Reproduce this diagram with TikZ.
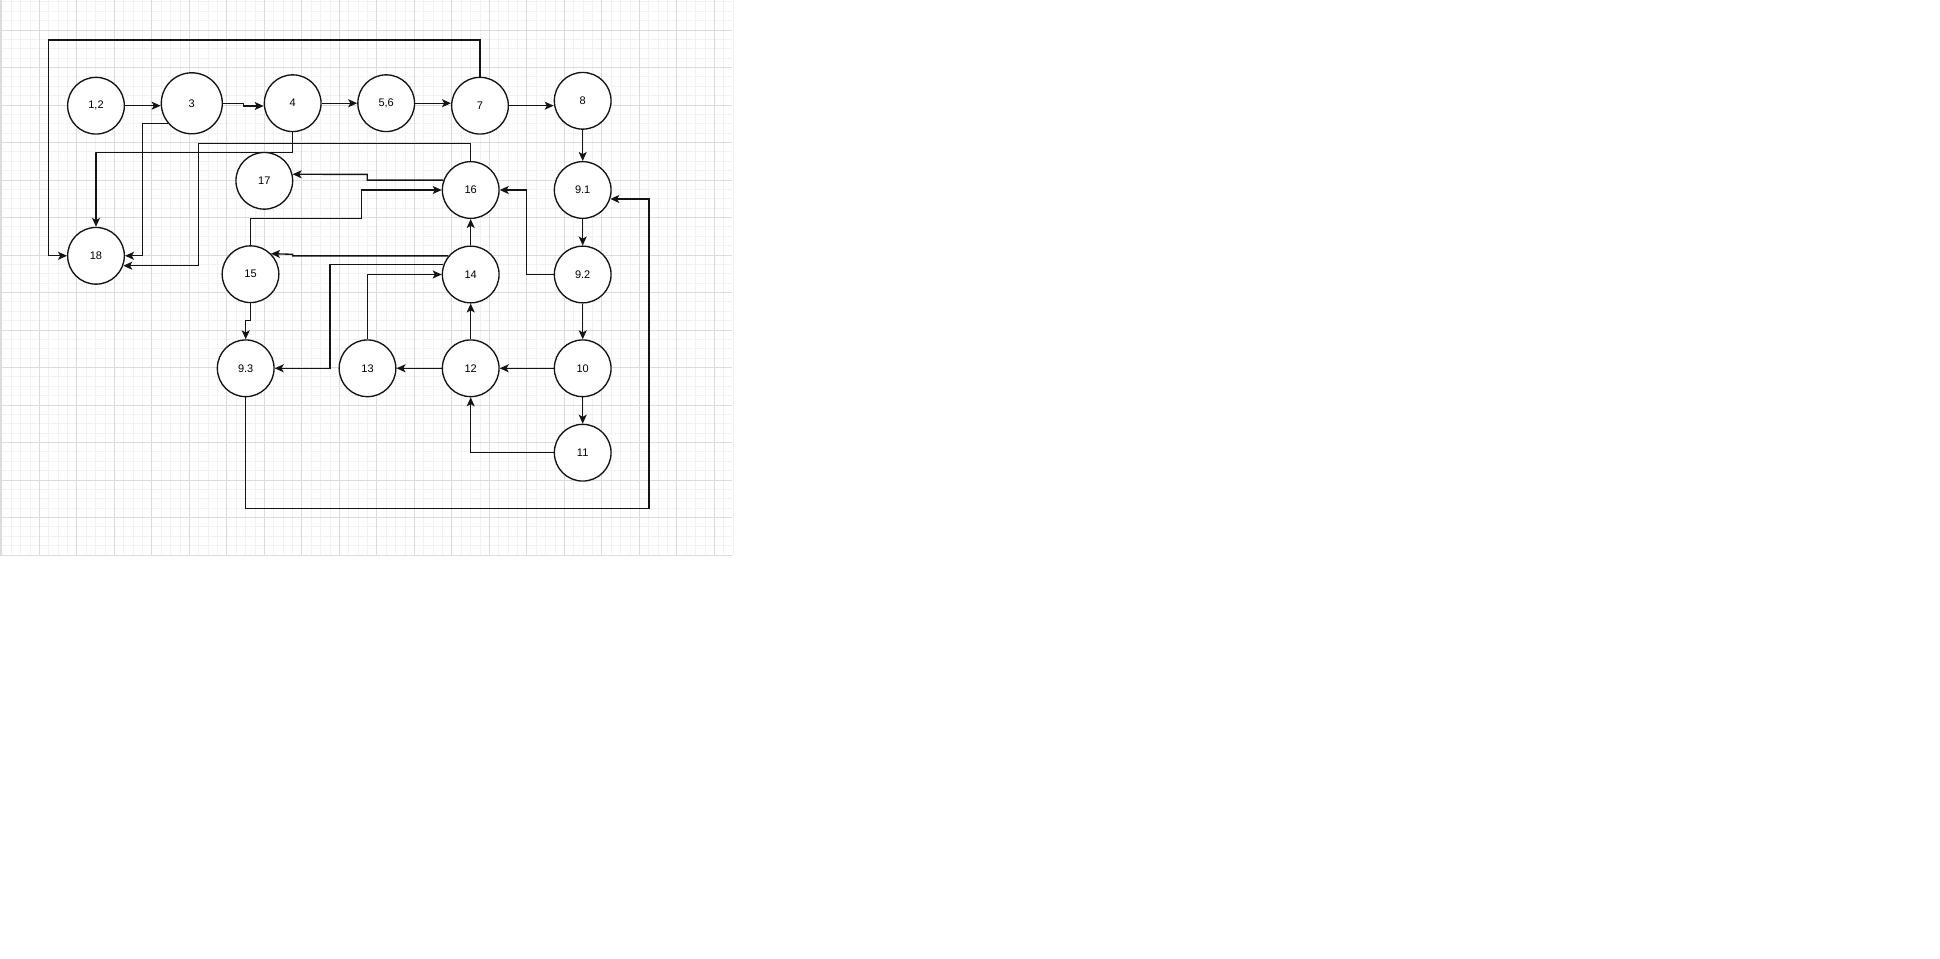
\documentclass[tikz,border=0pt]{standalone}
\usepackage{fontspec}
\setmainfont{Liberation Sans}
\usetikzlibrary{arrows.meta}
\definecolor{gridminor}{HTML}{F2F2F2}
\definecolor{gridmajor}{HTML}{DCDCDC}
\definecolor{ink}{HTML}{141414}
\tikzset{
  stnode/.style={circle, draw=ink, line width=1.35pt, fill=white, minimum size=56.7pt, inner sep=0pt, font=\fontsize{11}{13}\selectfont, text=black},
  bignode/.style={stnode, minimum size=61pt},
  conn/.style={draw=ink, line width=1.35pt, -{Stealth[length=9pt,width=8pt,inset=2.2pt]}},
}
\begin{document}
\begin{tikzpicture}[x=1pt,y=-1pt]
\useasboundingbox (0,0) rectangle (1940,958);
\fill[white] (0,0) rectangle (1940,958);
% grid
\foreach \k in {0,...,78}{\draw[gridminor, line width=0.8pt] ({1.8+9.375*\k},0) -- ({1.8+9.375*\k},555);}
\foreach \k in {0,...,59}{\draw[gridminor, line width=0.8pt] (0,{1.875+9.375*\k}) -- (732,{1.875+9.375*\k});}
\foreach \k in {0,...,19}{\draw[gridmajor, line width=0.9pt] ({1.8+37.5*\k},0) -- ({1.8+37.5*\k},555);}
\foreach \k in {0,...,14}{\draw[gridmajor, line width=0.9pt] (0,{30+37.5*\k}) -- (732,{30+37.5*\k});}
\draw[gridmajor, line width=2pt] (1,0) -- (1,555);
% nodes
\node[stnode] (n12) at (96,105.7) {1,2};
\node[bignode] (n3) at (191.8,103.3) {3};
\node[stnode] (n4) at (292.7,103.2) {4};
\node[stnode] (n56) at (386.2,103.2) {5,6};
\node[stnode] (n7) at (480,105.7) {7};
\node[stnode] (n8) at (582.7,100.8) {8};
\node[stnode] (n91) at (582.7,190) {9.1};
\node[stnode] (n92) at (582.7,274.5) {9.2};
\node[stnode] (n10) at (582.7,368.3) {10};
\node[stnode] (n11) at (582.7,452.7) {11};
\node[stnode] (n16) at (470.7,190) {16};
\node[stnode] (n14) at (470.7,274.5) {14};
\node[stnode] (nB12) at (470.7,368.3) {12};
\node[stnode] (n13) at (367.5,368.3) {13};
\node[stnode] (n93) at (245.7,368.3) {9.3};
\node[stnode] (n15) at (250.5,274.2) {15};
\node[stnode] (n17) at (264.3,180.8) {17};
\node[stnode] (n18) at (96,255.8) {18};
\coordinate (j34) at (243.3,106);
% connectors
\draw[conn] (n12.east) -- (n12.east -| n3.west);
\draw[conn] (n3.east) -- (243.3,103.3) -- (j34) -- (j34 -| n4.west);
\draw[conn] (n4.east) -- (n56.west);
\draw[conn] (n56.east) -- (n56.east -| n7.west);
\draw[conn] (n7.east) -- (n7.east -| n8.west);
\draw[conn] (n8.south) -- (n91.north);
\draw[conn] (n91.south) -- (n92.north);
\draw[conn] (n92.south) -- (n10.north);
\draw[conn] (n10.south) -- (n11.north);
\draw[conn] (n10.west) -- (nB12.east);
\draw[conn] (nB12.west) -- (n13.east);
\draw[conn] (n11.west) -| (nB12.south);
\draw[conn] (nB12.north) -- (n14.south);
\draw[conn] (n14.north) -- (n16.south);
\draw[conn] (n92.west) -- (526.7,274.5) |- (n16.east);
\draw[conn] (n93.south) |- (649,508.7) |- (n91.-18.5);
\draw[conn] (n13.north) |- (n14.west);
\draw[conn] (n14.160) -| (330,330) |- (n93.east);
\draw[conn] (n14.140) -| (292.7,254.3) -- (n15.45);
\draw[conn] (n15.north) |- (361.7,218.3) |- (n16.west);
\draw[conn] (n16.160) -| (367.3,174.4) -- (n17.13);
\draw[conn] (n15.south) |- (246,320.7) -| (n93.north);
\draw[conn] (n16.north) |- (198.7,143.3) |- (n18.-20);
\draw[conn] (n4.south) |- (95.7,152.7) -| (n18.north);
\draw[conn] (n3.220) -| (142.7,255.8) -- (n18.east);
\draw[conn] (n7.north) |- (48.7,40) |- (n18.west);
\end{tikzpicture}
\end{document}
